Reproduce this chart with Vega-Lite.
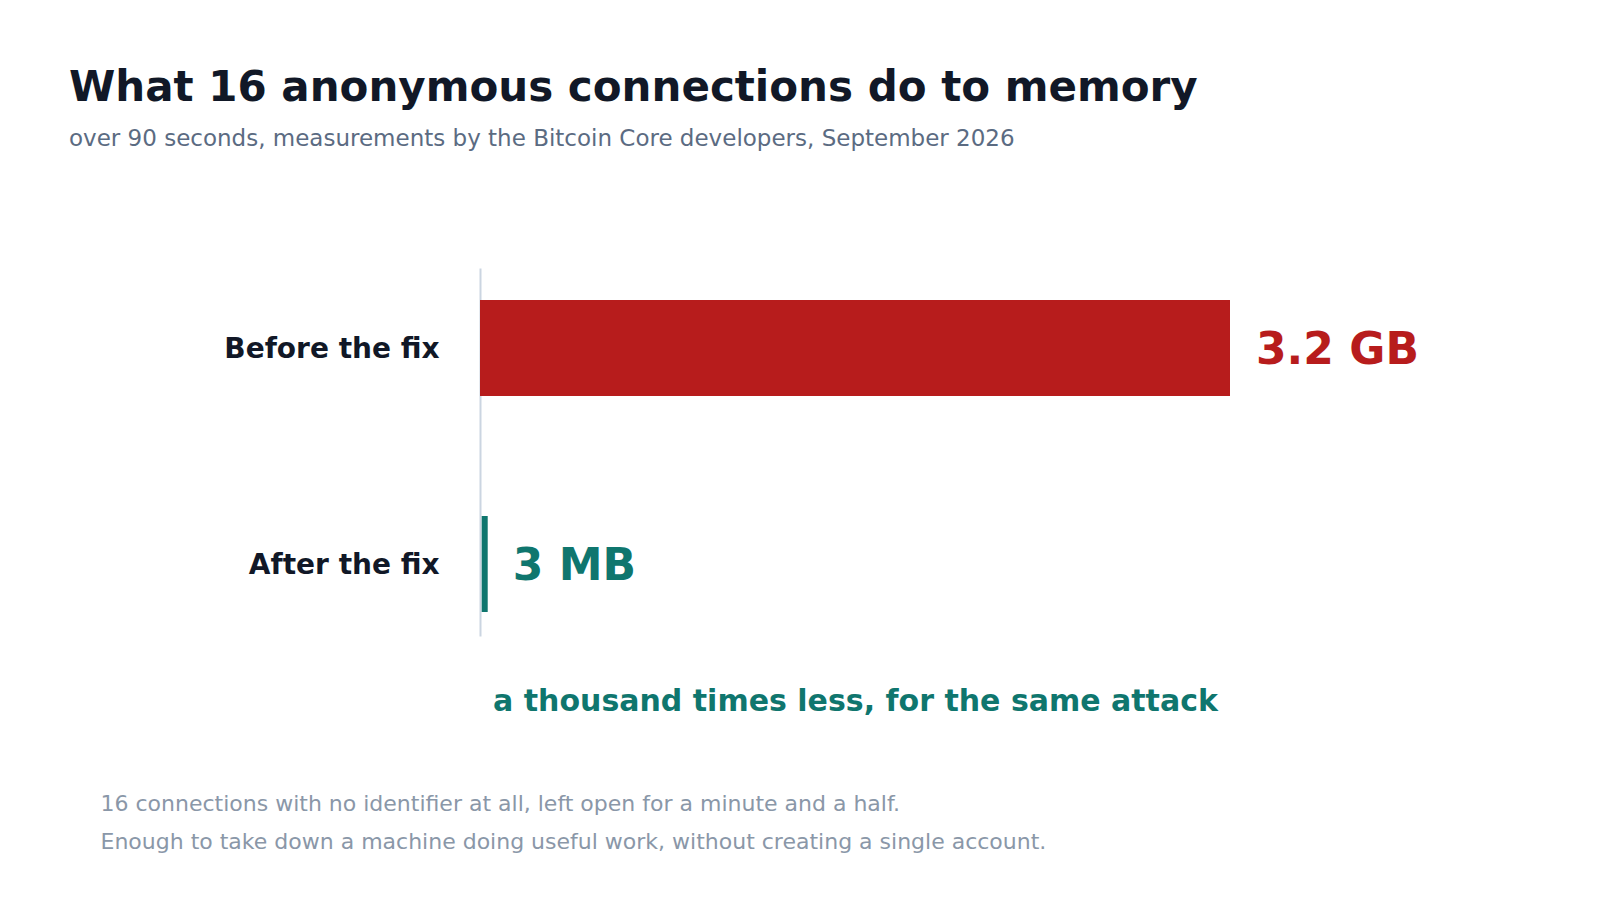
{
  "$schema": "https://vega.github.io/schema/vega-lite/v6.json",
  "width": 750,
  "height": 368,
  "autosize": {"type": "none"},
  "padding": {"left": 480, "top": 268, "right": 370, "bottom": 264},
  "background": "white",
  "config": {"view": {"stroke": null}, "font": "DejaVu Sans"},
  "title": {
    "text": "What 16 anonymous connections do to memory",
    "subtitle": "over 90 seconds, measurements by the Bitcoin Core developers, September 2026",
    "anchor": "start",
    "frame": "group",
    "dx": -411,
    "offset": 116,
    "font": "DejaVu Sans",
    "fontSize": 42,
    "fontWeight": "bold",
    "color": "#111827",
    "subtitleFont": "DejaVu Sans",
    "subtitleFontSize": 23,
    "subtitleColor": "#5b6b82",
    "subtitlePadding": 18
  },
  "data": {
    "values": [
      {"stage": "Before the fix", "value": 3200, "label": "3.2 GB"},
      {"stage": "After the fix", "value": 3, "label": "3 MB"}
    ]
  },
  "encoding": {
    "y": {
      "field": "stage",
      "type": "nominal",
      "sort": ["Before the fix", "After the fix"],
      "scale": {"paddingInner": 0.5556, "paddingOuter": 0.1296, "align": 0.571},
      "axis": {
        "ticks": false,
        "labelFont": "DejaVu Sans",
        "labelFontSize": 28,
        "labelFontWeight": "bold",
        "labelColor": "#111827",
        "labelPadding": 41,
        "labelOffset": 2,
        "labelLimit": 0,
        "domainColor": "#cbd5e1",
        "domainWidth": 2,
        "title": [
          "16 connections with no identifier at all, left open for a minute and a half.",
          "Enough to take down a machine doing useful work, without creating a single account."
        ],
        "titleX": -380,
        "titleY": 542,
        "titleAngle": 0,
        "titleAlign": "left",
        "titleBaseline": "alphabetic",
        "titleFont": "DejaVu Sans",
        "titleFontSize": 22,
        "titleFontWeight": "normal",
        "titleColor": "#8a97a8",
        "titleLineHeight": 38
      }
    },
    "x": {
      "field": "value",
      "type": "quantitative",
      "scale": {"domain": [0, 3200]},
      "axis": {
        "labels": false,
        "ticks": false,
        "grid": false,
        "domain": false,
        "title": "a thousand times less, for the same attack",
        "titleX": 375,
        "titleY": 74,
        "titleAlign": "center",
        "titleBaseline": "alphabetic",
        "titleAngle": 0,
        "titleFont": "DejaVu Sans",
        "titleFontSize": 30,
        "titleFontWeight": "bold",
        "titleColor": "#0f766e"
      }
    }
  },
  "layer": [
    {
      "transform": [{"filter": "datum.stage === 'Before the fix'"}],
      "mark": {"type": "bar", "color": "#b71c1c"}
    },
    {
      "transform": [{"filter": "datum.stage === 'After the fix'"}],
      "mark": {"type": "tick", "color": "#0f766e", "thickness": 6, "size": 96, "xOffset": 4, "opacity": 1}
    },
    {
      "transform": [{"filter": "datum.stage === 'Before the fix'"}],
      "mark": {"type": "text", "align": "left", "baseline": "middle", "dx": 26, "dy": 3, "font": "DejaVu Sans", "fontSize": 44, "fontWeight": "bold", "color": "#b71c1c"},
      "encoding": {"text": {"field": "label"}}
    },
    {
      "transform": [{"filter": "datum.stage === 'After the fix'"}],
      "mark": {"type": "text", "align": "left", "baseline": "middle", "dx": 32, "dy": 3, "font": "DejaVu Sans", "fontSize": 44, "fontWeight": "bold", "color": "#0f766e"},
      "encoding": {"text": {"field": "label"}}
    }
  ]
}
